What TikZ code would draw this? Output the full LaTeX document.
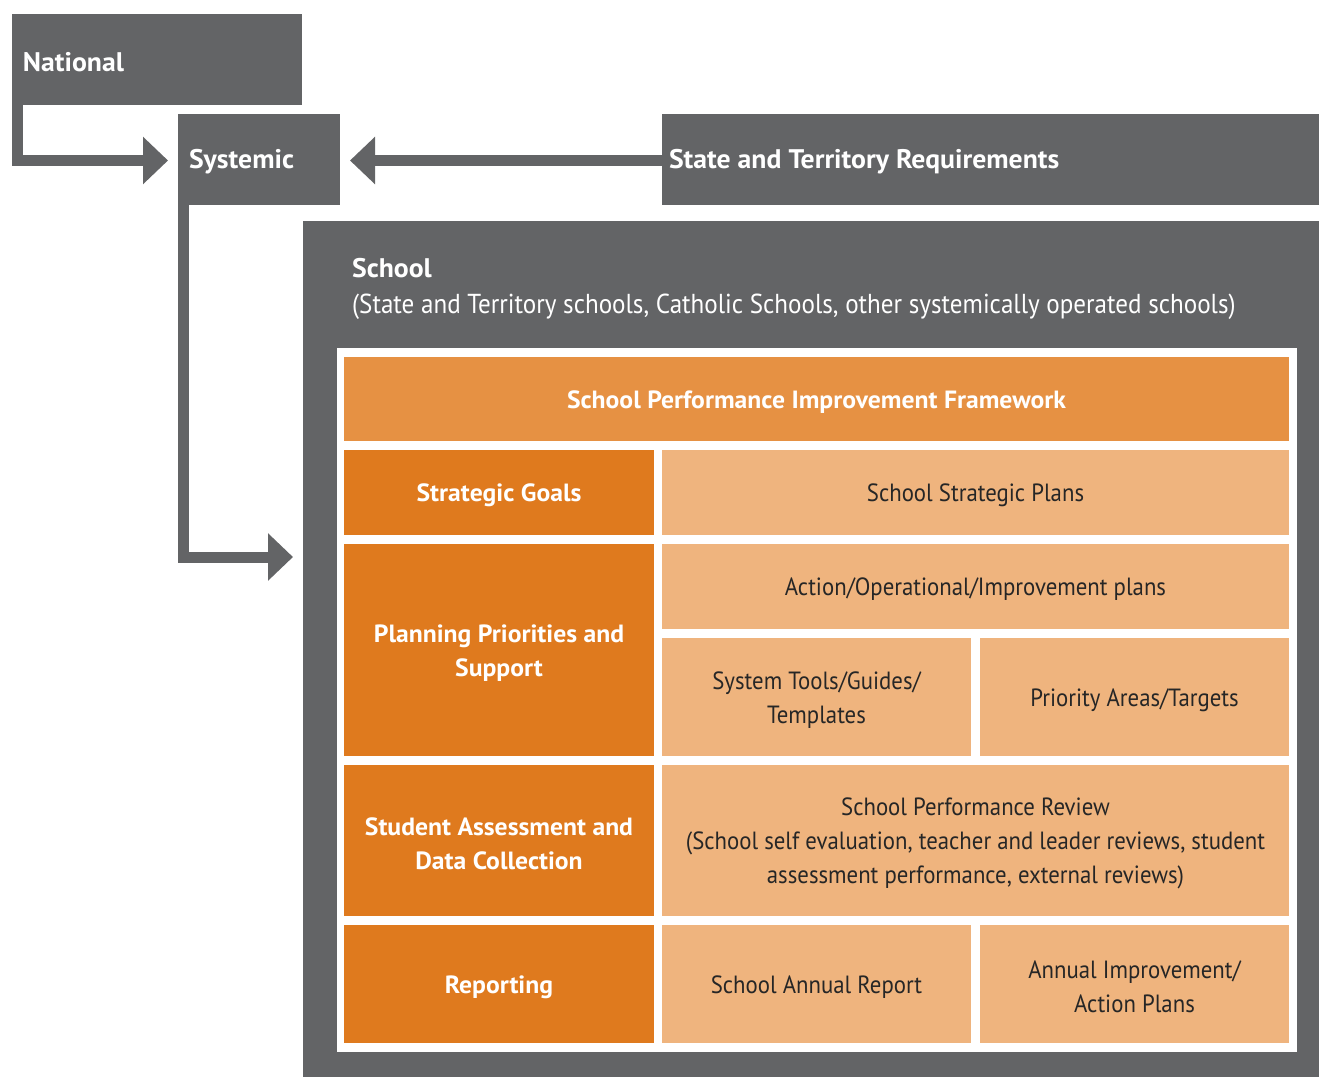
\documentclass[tikz,border=0pt]{standalone}
\usepackage{fontspec}
\setmainfont{PT Sans}[FakeStretch=0.915,BoldFeatures={FakeStretch=1.03}]
\usetikzlibrary{arrows.meta}
\definecolor{gr}{HTML}{636466}
\definecolor{dor}{HTML}{DF7A1E}
\definecolor{hor}{HTML}{E69143}
\definecolor{lor}{HTML}{EFB47E}
\newcommand\bx[6]{%
  \node[#1,minimum width=#4,minimum height=#5] (#2) at (#3) {};
  \node[#1txt] (#2t) at ([yshift=-3bp]#2.center) {#6};}
\begin{document}
\begin{tikzpicture}[x=1bp,y=-1bp,
  box/.style={rectangle,inner sep=0pt,draw=none},
  txt/.style={inner sep=0pt,align=center,font=\fontsize{25}{34}\selectfont},
  hdbox/.style={box,fill=hor},
  hdboxtxt/.style={txt,text=white,font=\fontsize{25}{34}\selectfont\bfseries},
  dkbox/.style={box,fill=dor},
  dkboxtxt/.style={txt,text=white,font=\fontsize{25}{34}\selectfont\bfseries},
  ltbox/.style={box,fill=lor},
  ltboxtxt/.style={txt,text=black!85},
  grbox/.style={box,fill=gr},
  grlbl/.style={inner sep=0pt,anchor=west,text=white,font=\fontsize{27}{34}\selectfont\bfseries},
  fat/.style={draw=gr,line width=11bp,line join=miter,-{Triangle[length=25bp,width=46bp]}}]
\useasboundingbox (0,0) rectangle (1319,1077);
% top row
\node[grbox,minimum width=290bp,minimum height=91bp] (nat) at (157,59.5) {};
\node[grlbl] (natt) at ([xshift=11bp,yshift=-3bp]nat.west) {National};
\node[grbox,minimum width=162bp,minimum height=91bp] (sys) at (259,159.5) {};
\node[grlbl] (syst) at ([xshift=11bp,yshift=-2bp]sys.west) {Systemic};
\node[grbox,minimum width=657bp,minimum height=91bp] (state) at (990.5,159.5) {};
\node[grlbl] (statet) at ([xshift=7bp,yshift=-2bp]state.west) {State and Territory Requirements};
% school
\node[grbox,minimum width=1016bp,minimum height=856bp] (school) at (811,649) {};
\node[anchor=north west,inner sep=0pt,text=white,align=left,font=\fontsize{27.5}{36}\selectfont] (schooltxt) at (352,258)
  {\textbf{\fontsize{27}{36}\selectfont School}\\(State and Territory schools, Catholic Schools, other systemically operated schools)};
\node[box,fill=white,minimum width=960bp,minimum height=704bp] (panel) at (817,700) {};
% grid
\bx{hdbox}{spif}{816.5,399}{945bp}{84bp}{School Performance Improvement Framework}
\bx{dkbox}{goals}{499,492.5}{310bp}{85bp}{Strategic Goals}
\bx{ltbox}{ssp}{975.5,492.5}{627bp}{85bp}{School Strategic Plans}
\bx{dkbox}{plan}{499,650}{310bp}{212bp}{Planning Priorities and\\Support}
\bx{ltbox}{act}{975.5,586.5}{627bp}{85bp}{Action/Operational/Improvement plans}
\bx{ltbox}{tools}{816.5,697}{309bp}{118bp}{System Tools/Guides/\\Templates}
\bx{ltbox}{prio}{1134.5,697}{309bp}{118bp}{Priority Areas/Targets}
\bx{dkbox}{assess}{499,840.5}{310bp}{151bp}{Student Assessment and\\Data Collection}
\bx{ltbox}{review}{975.5,840.5}{627bp}{151bp}{School Performance Review\\(School self evaluation, teacher and leader reviews, student\\assessment performance, external reviews)}
\bx{dkbox}{rep}{499,984}{310bp}{118bp}{Reporting}
\bx{ltbox}{sar}{816.5,984}{309bp}{118bp}{School Annual Report}
\bx{ltbox}{aip}{1134.5,984}{309bp}{118bp}{Annual Improvement/\\Action Plans}
% arrows
\coordinate (natend) at (168,160.5);
\coordinate (schend) at (293,557);
\draw[fat] ([xshift=5.5bp]nat.south west) |- (natend);
\draw[fat] ([xshift=5.5bp]sys.south west) |- (schend);
\draw[fat] (state.west |- 0,160.5) -- (350,160.5);
\end{tikzpicture}
\end{document}
